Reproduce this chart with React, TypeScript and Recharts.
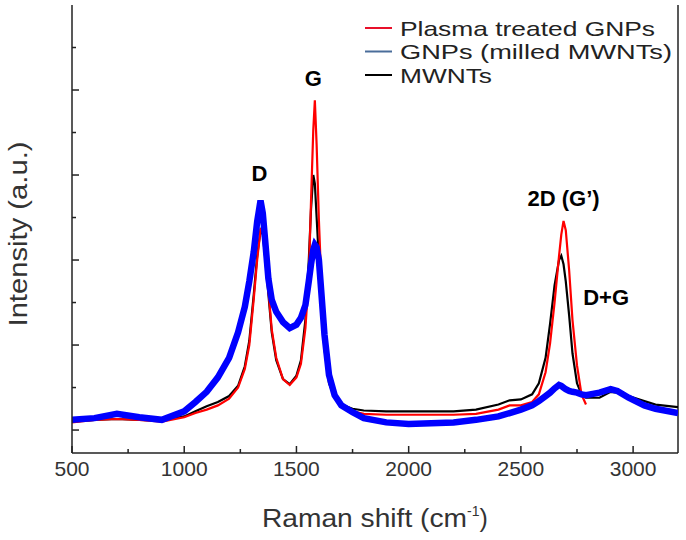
import React from 'react';
import { LineChart, Line, XAxis, YAxis, ReferenceDot, ReferenceLine } from 'recharts';

// Raman shift (cm^-1) sample positions
const ramanShift = [
  500, 600, 700, 800, 900, 1000, 1050, 1100, 1150, 1200, 1240, 1270, 1290, 1310, 1325, 1340, 1350, 1360,
  1375, 1390, 1410, 1440, 1470, 1500, 1520, 1540, 1555, 1565, 1575, 1582, 1590, 1600, 1610, 1625, 1645,
  1670, 1700, 1750, 1800, 1900, 2000, 2100, 2200, 2300, 2400, 2450, 2500, 2550, 2580, 2610, 2630, 2650,
  2670, 2680, 2690, 2700, 2715, 2730, 2750, 2770, 2790, 2850, 2900, 2930, 2980, 3050, 3100, 3200,
];

// Plasma treated GNPs (red)
const plasmaGNPs: (number | null)[] = [
  0.09, 0.12, 0.13, 0.12, 0.10, 0.15, 0.20, 0.24, 0.29, 0.37, 0.50, 0.72, 1.00, 1.55, 2.00, 2.36, 2.38, 2.12,
  1.65, 1.18, 0.85, 0.60, 0.53, 0.62, 0.78, 1.20, 1.80, 2.70, 3.53, 3.88, 3.35, 2.47, 1.80, 1.10, 0.60,
  0.38, 0.29, 0.22, 0.19, 0.18, 0.18, 0.18, 0.18, 0.19, 0.24, 0.29, 0.29, 0.33, 0.42, 0.68, 1.02, 1.50,
  2.05, 2.30, 2.46, 2.35, 1.88, 1.29, 0.76, 0.42, 0.30, null, null, null, null, null, null, null,
];

// GNPs (milled MWNTs) (blue)
const milledGNPs = [
  0.12, 0.14, 0.19, 0.15, 0.12, 0.22, 0.33, 0.45, 0.62, 0.85, 1.15, 1.45, 1.75, 2.10, 2.45, 2.70, 2.55, 2.25,
  1.78, 1.53, 1.39, 1.27, 1.20, 1.24, 1.32, 1.47, 1.75, 1.95, 2.12, 2.18, 2.15, 2.00, 1.65, 1.12, 0.65,
  0.41, 0.29, 0.21, 0.14, 0.09, 0.07, 0.08, 0.09, 0.12, 0.16, 0.20, 0.24, 0.29, 0.34, 0.40, 0.44, 0.49,
  0.53, 0.52, 0.50, 0.48, 0.46, 0.45, 0.44, 0.42, 0.41, 0.44, 0.48, 0.46, 0.38, 0.29, 0.25, 0.20,
];

// MWNTs (black)
const mwnts = [
  0.10, 0.12, 0.13, 0.12, 0.11, 0.16, 0.22, 0.28, 0.33, 0.40, 0.52, 0.75, 1.05, 1.60, 2.05, 2.35, 2.30, 2.05,
  1.60, 1.15, 0.82, 0.60, 0.54, 0.64, 0.82, 1.30, 2.00, 2.60, 3.00, 2.90, 2.50, 2.00, 1.50, 0.95, 0.55,
  0.38, 0.30, 0.25, 0.23, 0.22, 0.22, 0.22, 0.22, 0.24, 0.30, 0.35, 0.36, 0.42, 0.55, 0.85, 1.25, 1.70,
  2.00, 2.05, 1.95, 1.75, 1.35, 0.90, 0.55, 0.42, 0.38, 0.38, 0.45, 0.44, 0.40, 0.34, 0.30, 0.27,
];

const xTicks = [500, 750, 1000, 1250, 1500, 1750, 2000, 2250, 2500, 2750, 3000];
const xLabelTicks = [500, 1000, 1500, 2000, 2500, 3000];
const yTicks = [0, 0.5, 1, 1.5, 2, 2.5, 3, 3.5, 4, 4.5];
const yMajorTicks = [0, 1, 2, 3, 4];

const seriesNames = ['Plasma treated GNPs', 'GNPs (milled MWNTs)', 'MWNTs'];
const legendColors = ['#e8102a', '#4a6d9a', '#000000'];
const legendWidths = [255, 272, 92];

const peakLabels = [
  { x: 1335, y: 3.02, text: 'D' },
  { x: 1575, y: 4.14, text: 'G' },
  { x: 2690, y: 2.73, text: '2D (G\u2019)' },
  { x: 2880, y: 1.56, text: 'D+G' },
];

const data = ramanShift.map((x, i) => ({
  x,
  plasma: plasmaGNPs[i],
  milled: milledGNPs[i],
  mwnt: mwnts[i],
}));

const FONT = '"Liberation Sans", Arial, Helvetica, sans-serif';
const AXIS = '#222';

const BottomTick = (props: any) => {
  const { x, y, payload } = props;
  const major = xLabelTicks.includes(payload.value);
  return (
    <g>
      <line x1={x} x2={x} y1={y} y2={y - (major ? 7 : 4)} stroke={AXIS} strokeWidth={1.5} />
      {major && (
        <text x={x} y={y + 23} textAnchor="middle" fontSize={21} fill="#333" fontFamily={FONT}>
          {payload.value}
        </text>
      )}
    </g>
  );
};

const TopTick = (props: any) => {
  const { x, y, payload } = props;
  const major = xLabelTicks.includes(payload.value);
  return <line x1={x} x2={x} y1={y} y2={y + (major ? 7 : 4)} stroke={AXIS} strokeWidth={1.5} />;
};

const LeftTick = (props: any) => {
  const { x, y, payload } = props;
  const major = yMajorTicks.includes(payload.value);
  return <line x1={x} x2={x + (major ? 7 : 4)} y1={y} y2={y} stroke={AXIS} strokeWidth={1.5} />;
};

const XTitle = (props: any) => {
  const vb = props.viewBox;
  return (
    <text x={262} y={vb.y + 74} textAnchor="start" fontSize={25} fill="#333" fontFamily={FONT}>
      <tspan textLength={205} lengthAdjust="spacingAndGlyphs">Raman shift (cm</tspan>
      <tspan fontSize={14} dy={-11}>-1</tspan>
      <tspan dy={11}>)</tspan>
    </text>
  );
};

const YTitle = (props: any) => {
  const vb = props.viewBox;
  const cx = 27;
  const cy = vb.y + vb.height / 2 + 5;
  return (
    <text
      x={cx}
      y={cy}
      transform={`rotate(-90 ${cx} ${cy})`}
      textAnchor="middle"
      fontSize={25}
      fill="#333"
      fontFamily={FONT}
      textLength={185}
      lengthAdjust="spacingAndGlyphs"
    >
      Intensity (a.u.)
    </text>
  );
};

const LegendBox = () => (
  <svg width={320} height={90} style={{ display: 'block' }}>
    {seriesNames.map((n, i) => {
      const cy = 12 + i * 23.5;
      return (
        <g key={n}>
          <line x1={0} x2={27} y1={cy} y2={cy} stroke={legendColors[i]} strokeWidth={2} />
          <text
            x={35}
            y={cy + 7.5}
            fontSize={21}
            fill="#222"
            fontFamily={FONT}
            textLength={legendWidths[i]}
            lengthAdjust="spacingAndGlyphs"
          >
            {n}
          </text>
        </g>
      );
    })}
  </svg>
);

export default function App() {
  return (
    <div style={{ position: 'absolute', left: 0, top: 0, width: 686, height: 540, background: '#fff' }}>
      <LineChart width={686} height={540} data={data} margin={{ top: 5, right: 8, bottom: 0, left: 0 }}>
        <XAxis
          dataKey="x"
          type="number"
          domain={[500, 3200]}
          ticks={xTicks}
          interval={0}
          height={87}
          tickSize={0}
          tickMargin={0}
          tickLine={false}
          axisLine={{ stroke: AXIS, strokeWidth: 1.5 }}
          tick={<BottomTick />}
          allowDataOverflow
          label={{ content: <XTitle /> }}
        />
        <XAxis
          xAxisId="top"
          dataKey="x"
          type="number"
          orientation="top"
          domain={[500, 3200]}
          ticks={xTicks}
          interval={0}
          height={0}
          tickSize={0}
          tickMargin={0}
          tickLine={false}
          axisLine={{ stroke: AXIS, strokeWidth: 1.5 }}
          tick={<TopTick />}
          allowDataOverflow
        />
        <YAxis
          type="number"
          domain={[-0.27, 5]}
          ticks={yTicks}
          interval={0}
          width={72}
          tickSize={0}
          tickMargin={0}
          tickLine={false}
          axisLine={{ stroke: AXIS, strokeWidth: 1.5 }}
          tick={<LeftTick />}
          allowDataOverflow
          label={{ content: <YTitle /> }}
        />
        <ReferenceLine x={3200} stroke={AXIS} strokeWidth={1.5} ifOverflow="visible" />
        <Line dataKey="mwnt" stroke="#000000" strokeWidth={2.2} dot={false} isAnimationActive={false} type="linear" />
        <Line dataKey="plasma" stroke="#ff0000" strokeWidth={2.2} dot={false} isAnimationActive={false} type="linear" />
        <Line dataKey="milled" stroke="#0000ff" strokeWidth={6.5} dot={false} isAnimationActive={false} type="linear" />
        {peakLabels.map((p) => (
          <ReferenceDot
            key={p.text}
            x={p.x}
            y={p.y}
            r={0}
            fill="none"
            stroke="none"
            ifOverflow="visible"
            label={{ value: p.text, position: 'center', fontSize: 22, fontWeight: 'bold', fill: '#000', fontFamily: FONT }}
          />
        ))}
      </LineChart>
      <div style={{ position: 'absolute', left: 365, top: 16 }}>
        <LegendBox />
      </div>
    </div>
  );
}
